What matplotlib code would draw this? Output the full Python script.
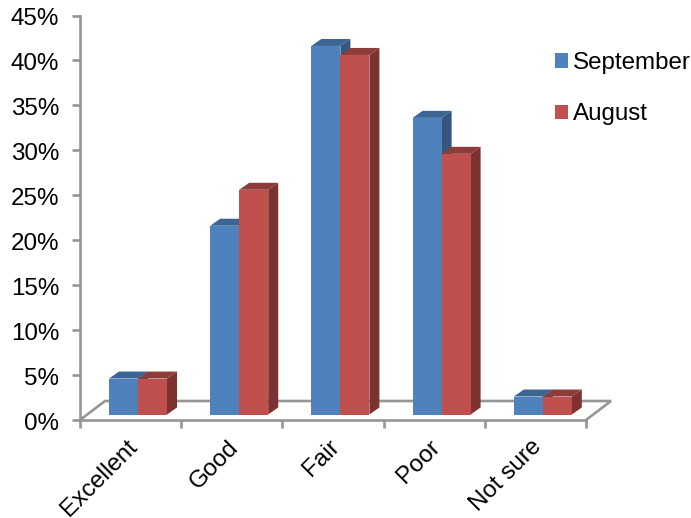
import matplotlib
matplotlib.use("Agg")
import matplotlib.pyplot as plt
from matplotlib.patches import Patch, Polygon
from matplotlib.transforms import ScaledTranslation

plt.rcParams['font.family'] = ['Liberation Sans', 'DejaVu Sans']

categories = ["Excellent", "Good", "Fair", "Poor", "Not sure"]
september = [4, 21, 41, 33, 2]
august = [4, 25, 40, 29, 2]
y_ticks = [0, 5, 10, 15, 20, 25, 30, 35, 40, 45]

W, H = 691, 518
AX_L, AX_R, AX_B, AX_T = 80, 586, 420, 15.5
GRAY = "#969696"
FS = 17.4

fig = plt.figure(figsize=(W / 100, H / 100), dpi=100)
ax = fig.add_axes([AX_L / W, 1 - AX_B / H, (AX_R - AX_L) / W, (AX_B - AX_T) / H])
ax.set_xlim(0, 5)
ax.set_ylim(0, 45)

# fake 3d depth, in data units
px_x = 5 / (AX_R - AX_L)
px_y = 45 / (AX_B - AX_T)
floor_dx, floor_dy = 25 * px_x, 19 * px_y
bar_dx, bar_dy = 10 * px_x, 7 * px_y
base = 5.5 * px_y
bar_w = 0.2866


def draw_bar(x, val, front, top, side):
    y0, y1 = base, base + val
    x1 = x + bar_w
    ax.add_patch(Polygon([(x1, y0), (x1 + bar_dx, y0 + bar_dy), (x1 + bar_dx, y1 + bar_dy), (x1, y1)],
                         fc=side, ec="none", clip_on=False, zorder=3))
    ax.add_patch(Polygon([(x, y1), (x + bar_dx, y1 + bar_dy), (x1 + bar_dx, y1 + bar_dy), (x1, y1)],
                         fc=top, ec="none", clip_on=False, zorder=3))
    ax.add_patch(Polygon([(x, y0), (x1, y0), (x1, y1), (x, y1)],
                         fc=front, ec="none", clip_on=False, zorder=3))


# floor of the 3d box
ax.plot([0, floor_dx, 5 + floor_dx, 5], [0, floor_dy, floor_dy, 0], color=GRAY, lw=1.9,
        clip_on=False, zorder=2, solid_joinstyle="miter")

for i in range(len(categories)):
    x = i + 0.2866
    draw_bar(x, september[i], "#4F81BD", "#3C6594", "#34567F")
    draw_bar(x + bar_w, august[i], "#C0504D", "#8E3C3A", "#7C3230")

for s in ["top", "right"]:
    ax.spines[s].set_visible(False)
for s in ["left", "bottom"]:
    ax.spines[s].set_color(GRAY)
    ax.spines[s].set_linewidth(1.9)
    ax.spines[s].set_zorder(2)

ax.set_yticks(y_ticks)
ax.set_yticklabels([f"{v}%" for v in y_ticks])
ax.set_xticks(range(6))
ax.set_xticklabels([""] * 6)
ax.tick_params(axis="both", color=GRAY, width=1.9, length=5.5, labelsize=FS, labelcolor="black")
ax.tick_params(axis="y", pad=9.5)

# y labels sit a little below their ticks
nudge = ScaledTranslation(0, -1 / 100, fig.dpi_scale_trans)
for lab in ax.get_yticklabels():
    lab.set_transform(lab.get_transform() + nudge)

for i, name in enumerate(categories):
    ax.annotate(name, xy=(i + 0.5, 0), xycoords="data", xytext=(-3.5, -11.5), textcoords="offset points",
                rotation=45, rotation_mode="anchor", ha="right", va="top", fontsize=FS,
                annotation_clip=False)

handles = [Patch(fc="#4F81BD", label="September"), Patch(fc="#C0504D", label="August")]
ax.legend(handles=handles, loc="upper left", bbox_to_anchor=(555 / W, 1 - 52 / H),
          bbox_transform=fig.transFigure, frameon=False, fontsize=FS, borderaxespad=0, borderpad=0,
          handlelength=0.544, handleheight=0.544, handletextpad=0.21, labelspacing=1.22)

fig.savefig("out.png", dpi=100)
